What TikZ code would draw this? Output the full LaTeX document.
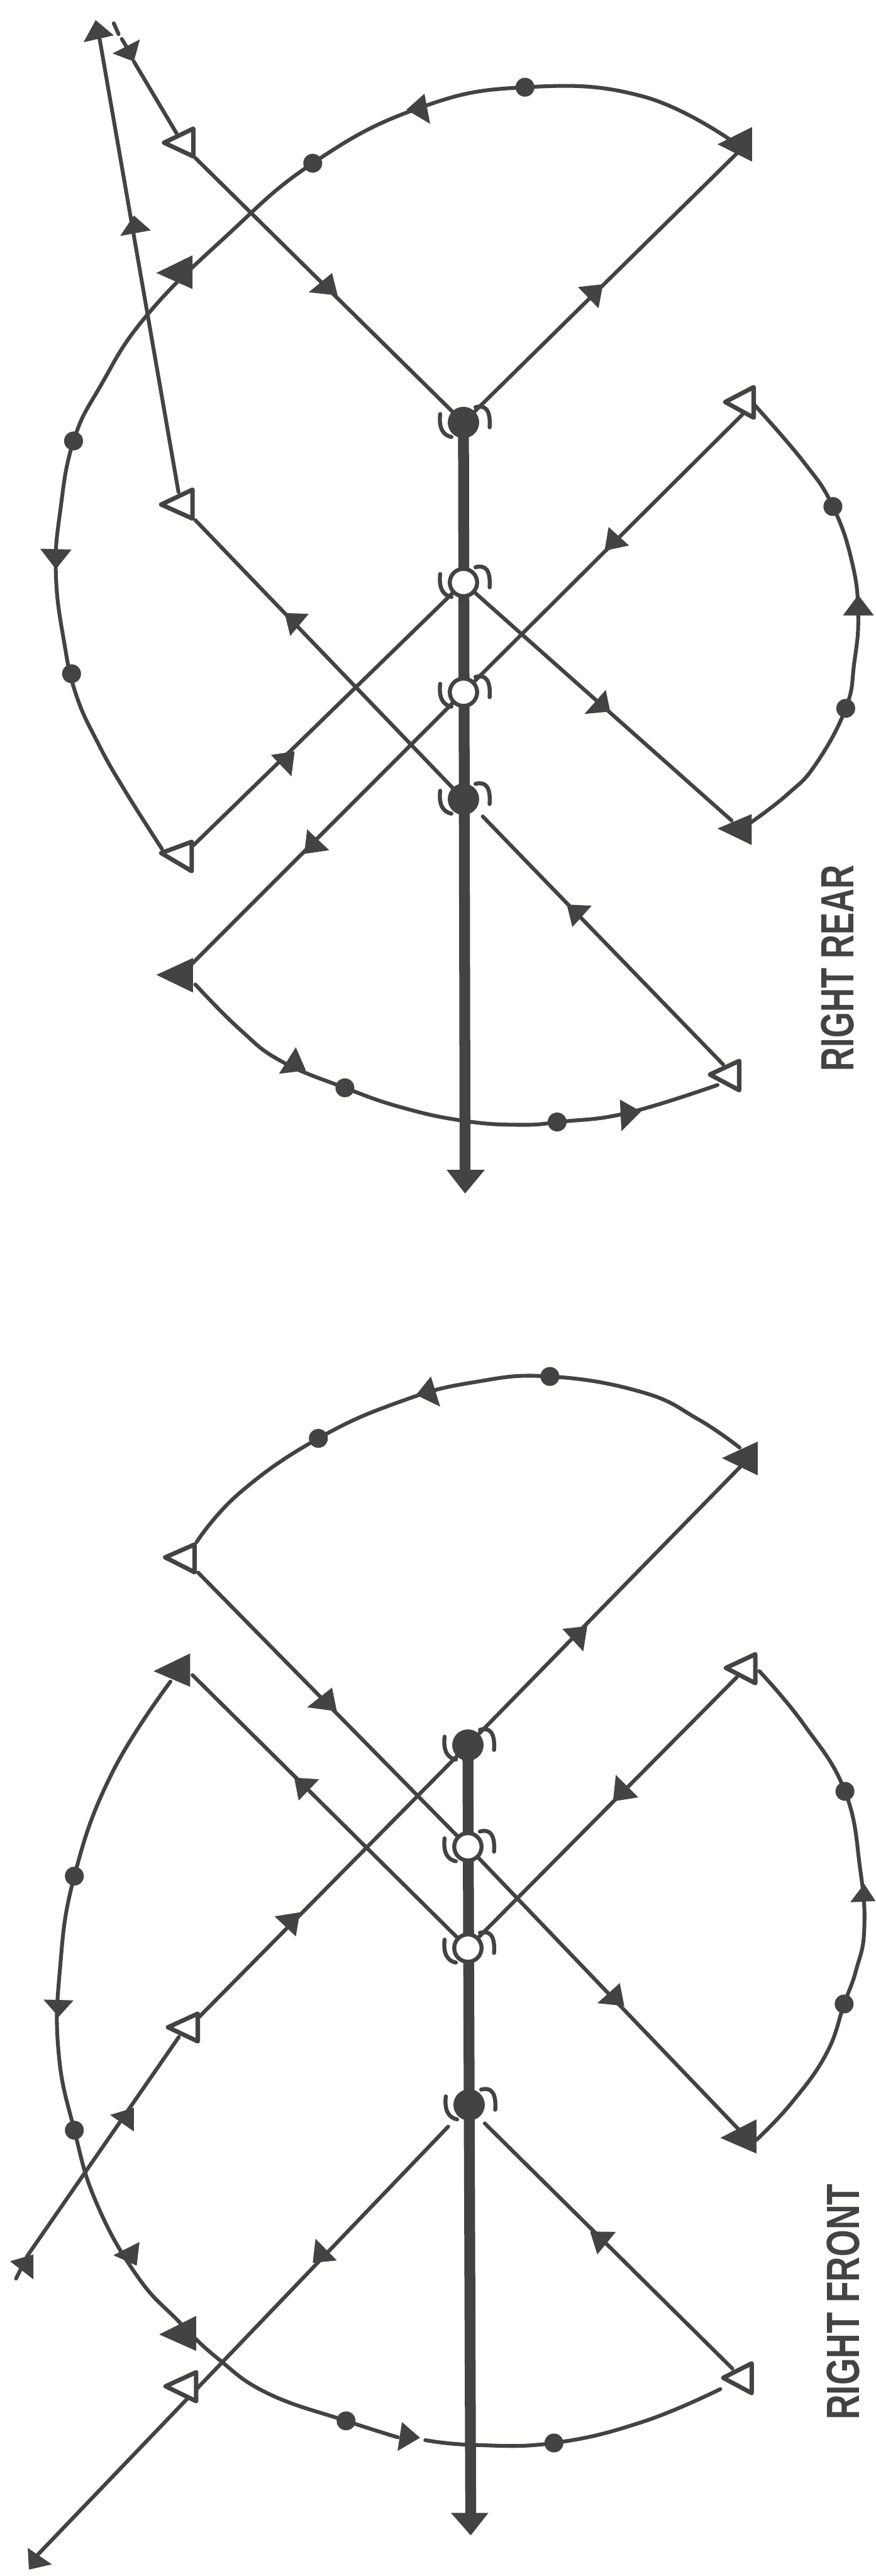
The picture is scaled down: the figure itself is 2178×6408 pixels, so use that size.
\documentclass[tikz,border=0pt]{standalone}
\usepackage{fontspec}
\setmainfont{Liberation Sans}
\definecolor{inkc}{HTML}{434343}
\definecolor{paperc}{HTML}{FFFFFD}
\tikzset{
  x=0.01cm,y=-0.01cm,
  thinln/.style={draw=inkc,line width=0.095cm,line cap=round},
  arcln/.style={draw=inkc,line width=0.095cm,line cap=round,smooth,tension=0.75},
  spineln/.style={draw=inkc,line width=0.27cm},
  hookln/.style={draw=inkc,line width=0.1cm,line cap=round},
  opencirc/.style={circle,draw=inkc,fill=white,line width=0.1cm,minimum size=0.68cm,inner sep=0pt},
  fullcirc/.style={circle,draw=inkc,fill=inkc,line width=0.1cm,minimum size=0.68cm,inner sep=0pt},
  dotmk/.style={circle,fill=inkc,minimum size=0.47cm,inner sep=0pt},
  opentri/.style={draw=inkc,fill=white,line width=0.11cm,line join=round},
  headmk/.style={fill=inkc},
  lbl/.style={text=inkc,rotate=90,font=\fontsize{33}{33}\selectfont\bfseries}
}
% #1 tip x, #2 tip y, #3 back x, #4 back top y, #5 back bottom y
\newcommand\filltri[5]{\fill[headmk] (#1,#2)--(#3,#4)--(#3,#5)--cycle;}
\newcommand\opntri[5]{\path[opentri] (#1+5,#2)--(#3-5,#4+4)--(#3-5,#5-4)--cycle;}
\newcommand\hd[6]{\fill[headmk] (#1,#2)--(#3,#4)--(#5,#6)--cycle;}
\newcommand\hooks[1]{%
  \draw[hookln,shift={(#1)}] (-58,-21) .. controls (-62,15) and (-50,32) .. (-30,36);
  \draw[hookln,shift={(#1)}] (30,-38) .. controls (55,-45) and (68,-30) .. (65,12);}
\begin{document}
\begin{tikzpicture}
\fill[paperc] (0,0) rectangle (2178,6408);
\path[use as bounding box] (0,0) rectangle (2178,6408);

%%%%%%%%%%%%% RIGHT REAR
\coordinate (rA) at (1153,1051);
\coordinate (rB) at (1153,1449);
\coordinate (rC) at (1153,1722);
\coordinate (rD) at (1153,1988);
\coordinate (rSpineEnd) at (1157,2915);
\coordinate (rTopOpen) at (486,393);
\coordinate (rTopOpenUp) at (440,333);
\coordinate (rTopEnd) at (333,153);
\coordinate (rTopFill) at (1850,365);
\coordinate (rMidOpenUp) at (444,1224);
\coordinate (rMidEnd) at (247,92);
\coordinate (rMidOpen) at (486,1294);
\coordinate (rLowOpen) at (482,2102);
\coordinate (rRightOpen) at (1847,1031);
\coordinate (rRightFill) at (1820,2041);
\coordinate (rLowFill) at (470,2405);
\coordinate (rBotOpen) at (1799,2648);
\coordinate (rDgap) at (1201,2031);

% arcs
\draw[arcln] plot coordinates {(1833,359) (1600,240) (1306,217) (1039,270) (778,406) (560,590) (364,786) (250,960) (183,1097) (150,1270) (139,1428) (160,1600) (190,1730) (243,1847) (306,1959) (403,2112)};
\draw[arcln] plot coordinates {(1875,1005) (2000,1150) (2072,1260) (2120,1400) (2135,1530) (2125,1650) (2104,1762) (2030,1900) (1960,1975) (1868,2046)};
\draw[arcln] plot coordinates {(486,2449) (597,2561) (700,2640) (858,2706) (1000,2755) (1153,2788) (1292,2798) (1400,2790) (1563,2768) (1785,2699)};

% straight lines
\draw[thinln] (rA) -- (rTopOpen);
\draw[thinln] (rTopOpenUp) -- (rTopEnd);
\draw[thinln] (rA) -- (rTopFill);
\draw[thinln] (rMidOpenUp) -- (rMidEnd);
\draw[thinln] (rMidOpen) -- (rD);
\draw[thinln] (rLowOpen) -- (rB);
\draw[thinln] (rRightOpen) -- (rC);
\draw[thinln] (rB) -- (rRightFill);
\draw[thinln] (rC) -- (rLowFill);
\draw[thinln] (rBotOpen) -- (rDgap);
\draw[thinln] (283,58) -- (295,85);
\draw[thinln] (303,97) -- (320,125);

\draw[spineln] (rA) -- (rSpineEnd);
\fill[headmk] (1111,2910) -- (1206,2910) -- (1157,2969) -- cycle;

\node[fullcirc] (rNa) at (rA) {};
\node[opencirc] (rNb) at (rB) {};
\node[opencirc] (rNc) at (rC) {};
\node[fullcirc] (rNd) at (rD) {};
\hooks{rNa}\hooks{rNb}\hooks{rNc}\hooks{rNd}

% triangles
\opntri{403}{355}{486}{316}{393}
\filltri{1785}{359}{1871}{316}{402}
\filltri{389}{679}{479}{635}{719}
\opntri{396}{1255}{484}{1214}{1294}
\opntri{396}{2122}{482}{2090}{2171}
\opntri{1799}{1000}{1880}{959}{1043}
\filltri{1785}{2061}{1870}{2025}{2102}
\filltri{389}{2425}{480}{2383}{2469}
\opntri{1761}{2673}{1844}{2635}{2716}

% inline heads
\hd{840}{735}{768}{727}{826}{679}
\hd{1500}{707}{1438}{714}{1489}{767}
\hd{1011}{273}{1056}{233}{1070}{308}
\hd{139}{1416}{100}{1365}{178}{1367}
\hd{333}{536}{299}{587}{375}{573}
\hd{708}{1525}{768}{1527}{722}{1582}
\hd{1504}{1370}{1514}{1311}{1565}{1357}
\hd{2135}{1480}{2097}{1531}{2174}{1531}
\hd{733}{1869}{674}{1878}{725}{1931}
\hd{1518}{1770}{1454}{1776}{1507}{1716}
\hd{757}{2124}{764}{2063}{819}{2115}
\hd{1410}{2250}{1472}{2253}{1424}{2306}
\hd{761}{2663}{736}{2605}{694}{2671}
\hd{1595}{2765}{1542}{2735}{1546}{2814}
\hd{333}{153}{280}{133}{348}{98}
\hd{238}{50}{208}{105}{283}{88}

% dots
\node[dotmk] (rd1) at (1306,217) {};
\node[dotmk] (rd2) at (778,406) {};
\node[dotmk] (rd3) at (183,1097) {};
\node[dotmk] (rd4) at (178,1676) {};
\node[dotmk] (rd5) at (2072,1260) {};
\node[dotmk] (rd6) at (2104,1762) {};
\node[dotmk] (rd7) at (858,2706) {};
\node[dotmk] (rd8) at (1386,2791) {};

\node[lbl] (rLabel) at (2084,2408) {\scalebox{0.71}[1]{RIGHT REAR}};

%%%%%%%%%%%%% RIGHT FRONT
\coordinate (fA) at (1164,4341);
\coordinate (fB) at (1164,4594);
\coordinate (fC) at (1164,4846);
\coordinate (fD) at (1167,5236);
\coordinate (fSpineEnd) at (1171,6255);
\coordinate (fTopOpen) at (493,3912);
\coordinate (fTopFill) at (1860,3630);
\coordinate (fLeftFill) at (479,4167);
\coordinate (fStar) at (69,5610);
\coordinate (fTail) at (40,5668);
\coordinate (fRightOpen) at (1833,4172);
\coordinate (fRightFill) at (1850,5310);
\coordinate (fBotOpen) at (1822,5892);
\coordinate (fGapR) at (1206,5282);
\coordinate (fGapL) at (1115,5290);
\coordinate (fFar) at (90,6359);
\coordinate (fOpenTwoUp) at (470,5043);

% arcs
\draw[arcln] plot coordinates {(1840,3601) (1736,3530) (1597,3463) (1368,3424) (1181,3438) (1000,3485) (792,3578) (597,3713) (489,3836)};
\draw[arcln] plot coordinates {(424,4183) (278,4412) (185,4667) (149,4900) (146,5108) (185,5299) (240,5480) (340,5660) (444,5774) (542,5867) (667,5954) (861,6022) (990,6063)};
\draw[arcln] plot coordinates {(1058,6070) (1181,6082) (1378,6077) (1597,6025) (1792,5943)};
\draw[arcln] plot coordinates {(1889,4157) (2000,4290) (2102,4456) (2140,4650) (2150,4800) (2130,4900) (2100,4985) (2056,5108) (1970,5230) (1882,5323)};

% straight lines
\draw[thinln] (fTopOpen) -- (fB);
\draw[thinln] (fA) -- (fTopFill);
\draw[thinln] (fC) -- (fLeftFill);
\draw[thinln] (fA) -- (fOpenTwoUp);
\draw[thinln] (445,5067) -- (fStar);
\draw[thinln] (fStar) -- (fTail);
\draw[thinln] (fRightOpen) -- (fC);
\draw[thinln] (fB) -- (fRightFill);
\draw[thinln] (fBotOpen) -- (fGapR);
\draw[thinln] (fGapL) -- (fFar);

\draw[spineln] (fA) -- (fSpineEnd);
\fill[headmk] (1122,6251) -- (1215,6251) -- (1171,6307) -- cycle;

\node[fullcirc] (fNa) at (fA) {};
\node[opencirc] (fNb) at (fB) {};
\node[opencirc] (fNc) at (fC) {};
\node[fullcirc] (fNd) at (fD) {};
\hooks{fNa}\hooks{fNb}\hooks{fNc}\hooks{fNd}

% triangles
\filltri{1796}{3627}{1885}{3586}{3670}
\opntri{406}{3874}{489}{3838}{3915}
\filltri{382}{4157}{473}{4113}{4196}
\opntri{1801}{4149}{1884}{4111}{4191}
\opntri{413}{5043}{497}{5005}{5082}
\filltri{1792}{5318}{1882}{5272}{5357}
\filltri{396}{5807}{488}{5761}{5848}
\opntri{407}{5936}{493}{5897}{5977}
\opntri{1794}{5915}{1875}{5875}{5957}

% inline heads
\hd{1035}{3470}{1072}{3424}{1095}{3499}
\hd{838}{4257}{764}{4247}{826}{4198}
\hd{1461}{4045}{1399}{4052}{1451}{4108}
\hd{732}{4422}{794}{4426}{743}{4479}
\hd{1525}{4481}{1532}{4415}{1588}{4471}
\hd{746}{4757}{683}{4767}{736}{4817}
\hd{2150}{4686}{2115}{4732}{2178}{4729}
\hd{146}{5017}{108}{4974}{183}{4976}
\hd{1553}{4990}{1486}{4983}{1542}{4933}
\hd{333}{5243}{274}{5261}{333}{5302}
\hd{340}{5636}{282}{5610}{347}{5577}
\hd{83}{5608}{25}{5625}{83}{5670}
\hd{1468}{5551}{1532}{5552}{1486}{5608}
\hd{778}{5629}{785}{5569}{838}{5623}
\hd{1045}{6064}{989}{6097}{1000}{6025}
\hd{72}{6392}{69}{6338}{129}{6379}

% dots
\node[dotmk] (fd1) at (1368,3424) {};
\node[dotmk] (fd2) at (792,3578) {};
\node[dotmk] (fd3) at (185,4667) {};
\node[dotmk] (fd4) at (185,5299) {};
\node[dotmk] (fd5) at (2102,4456) {};
\node[dotmk] (fd6) at (2100,4985) {};
\node[dotmk] (fd7) at (861,6022) {};
\node[dotmk] (fd8) at (1378,6077) {};

\node[lbl] (fLabel) at (2098,5726) {\scalebox{0.74}[1]{RIGHT FRONT}};
\end{tikzpicture}
\end{document}
